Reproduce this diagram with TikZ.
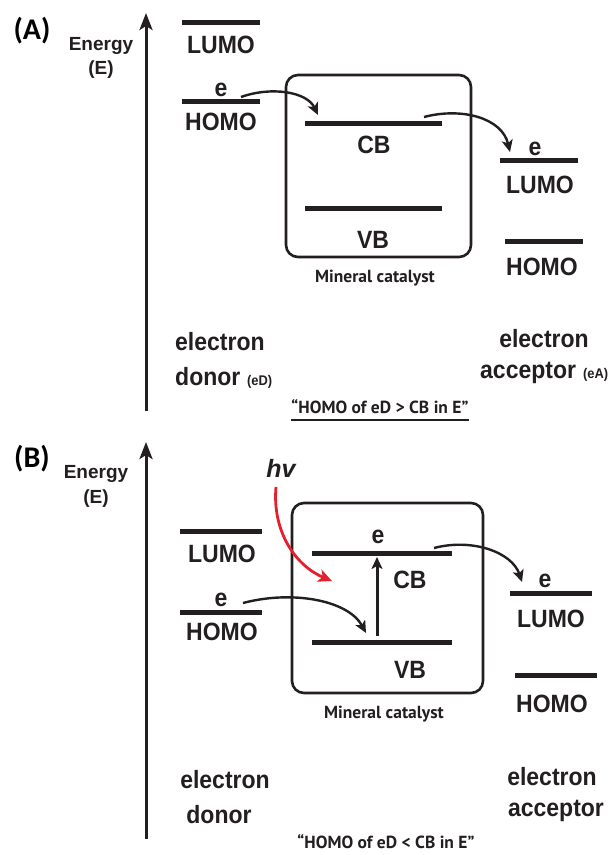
\documentclass[tikz,border=0pt]{standalone}
\usepackage{fontspec}
\setmainfont{Liberation Sans}
\newfontfamily\condf[FakeStretch=0.92]{Liberation Sans}
\newfontfamily\myriadf[Ligatures=TeX]{PT Sans}
\newfontfamily\calf{Carlito}
\usetikzlibrary{arrows.meta}
\definecolor{ink}{HTML}{231F20}
\definecolor{hvred}{HTML}{E5202E}
\begin{document}
\begin{tikzpicture}[x=1pt,y=-1pt,
  bar/.style={fill=ink,inner sep=0pt,minimum height=5pt,draw=none},
  lbl/.style={inner sep=0pt,anchor=base,text=ink,font=\condf\bfseries\fontsize{25}{28}\selectfont},
  small/.style={inner sep=0pt,anchor=base west,text=ink,font=\condf\bfseries\fontsize{14}{16}\selectfont},
  enlbl/.style={inner sep=0pt,anchor=base,text=ink,font=\bfseries\fontsize{19}{22}\selectfont},
  panel/.style={inner sep=0pt,anchor=base,text=black,font=\calf\bfseries\fontsize{30}{34}\selectfont},
  myr/.style={inner sep=0pt,anchor=base,text=ink,font=\myriadf\bfseries\fontsize{17.5}{20}\selectfont},
  axis/.style={line width=3pt,draw=ink,-{Stealth[length=17pt,width=13pt,inset=4pt]}},
  earrow/.style={line width=2.4pt,draw=ink,-{Stealth[length=12pt,width=11pt,inset=3pt]}},
  redarrow/.style={line width=2.8pt,draw=hvred,-{Stealth[length=14pt,width=13pt,inset=4pt]}},
  cat/.style={draw=ink,line width=2.6pt,rounded corners=12pt}]
\useasboundingbox[fill=white] (0,0) rectangle (612,855);

%% ================= Panel A =================
\node[panel] (A) at (32,39) {(A)};
\node[enlbl] (enA) at (101,50) {Energy};
\node[enlbl] (eA) at (101,74) {(E)};
\coordinate (axAb) at (146,411);
\coordinate (axAt) at (146,13);
\draw[axis] (axAb) -- (axAt);

% donor
\node[bar,minimum width=78pt] (dLA) at (221,22) {};
\node[lbl] (dLAt) at (221,53) {LUMO};
\node[lbl] (deA) at (221,96) {e};
\node[bar,minimum width=78pt] (dHA) at (221,101) {};
\node[lbl] (dHAt) at (221,130) {HOMO};

% catalyst
\draw[cat] (286,75) rectangle (471,257);
\node[bar,minimum width=137pt] (cbA) at (373,123) {};
\node[lbl] (cbAt) at (374,153) {CB};
\node[bar,minimum width=137pt] (vbA) at (373,208) {};
\node[lbl] (vbAt) at (373,248) {VB};
\node[myr] (mcA) at (375,282) {Mineral catalyst};

% acceptor
\node[lbl] (aeA) at (535,155) {e};
\node[bar,minimum width=78pt] (aLA) at (539,160) {};
\node[lbl] (aLAt) at (540,193) {LUMO};
\node[bar,minimum width=78pt] (aHA) at (544,241) {};
\node[lbl] (aHAt) at (542,275) {HOMO};

% arrows
\coordinate (a1s) at (241,97);
\coordinate (a1e) at (318,115);
\draw[earrow] (a1s) .. controls (272,86) and (307,92) .. (a1e);
\coordinate (a2s) at (424,117);
\coordinate (a2e) at (510,152);
\draw[earrow] (a2s) .. controls (462,107) and (502,118) .. (a2e);

% bottom labels
\node[lbl,anchor=base west] (edA) at (175,350) {electron};
\node[lbl,anchor=base west] (dnA) at (175,385) {donor};
\node[small] (eDA) at (247,385) {(eD)};
\node[lbl] (eaA) at (544,347) {electron};
\node[lbl,anchor=base west] (acA) at (480,378) {acceptor};
\node[small] (eAA) at (583,378) {(eA)};

\node[myr] (qA) at (380,413) {“HOMO of eD > CB in E”};
\draw[line width=1.8pt,draw=ink] ([yshift=-7pt]qA.base west) -- ([yshift=-7pt]qA.base east);

%% ================= Panel B =================
\node[panel] (B) at (32,467) {(B)};
\node[enlbl] (enB) at (96,478) {Energy};
\node[enlbl] (eB) at (96,503) {(E)};
\coordinate (axBb) at (146,839);
\coordinate (axBt) at (146,442);
\draw[axis] (axBb) -- (axBt);

% donor
\node[bar,minimum width=82pt] (dLB) at (221,531) {};
\node[lbl] (dLBt) at (222,562) {LUMO};
\node[lbl] (deB) at (221,606) {e};
\node[bar,minimum width=82pt] (dHB) at (221,612) {};
\node[lbl] (dHBt) at (222,640) {HOMO};

% hv
\node[inner sep=0pt,anchor=base,text=ink,font=\bfseries\itshape\fontsize{25}{28}\selectfont] (hv) at (281,477) {hv};

% catalyst
\draw[cat] (292,503) rectangle (483,693);
\node[lbl] (ecB) at (378,543) {e};
\node[bar,minimum width=140pt] (cbB) at (382,553) {};
\node[lbl] (cbBt) at (410,588) {CB};
\node[bar,minimum width=140pt] (vbB) at (382,642) {};
\node[lbl] (vbBt) at (410,678) {VB};
\node[myr] (mcB) at (384,718) {Mineral catalyst};

% acceptor
\node[lbl] (aeB) at (545,587) {e};
\node[bar,minimum width=82pt] (aLB) at (551,593) {};
\node[lbl] (aLBt) at (551,627) {LUMO};
\node[bar,minimum width=82pt] (aHB) at (556,675) {};
\node[lbl] (aHBt) at (552,712) {HOMO};

% arrows
\coordinate (rs) at (276,487);
\coordinate (re) at (332,581);
\draw[redarrow] (rs) .. controls (272,532) and (296,566) .. (re);
\coordinate (b1s) at (243,603);
\coordinate (b1e) at (366,633);
\draw[earrow] (b1s) .. controls (292,590) and (348,600) .. (b1e);
\coordinate (vs) at (377,636);
\coordinate (ve) at (377,557);
\draw[earrow,line width=3pt] (vs) -- (ve);
\coordinate (b2s) at (434,548);
\coordinate (b2e) at (522,582);
\draw[earrow] (b2s) .. controls (472,538) and (512,552) .. (b2e);

% bottom labels
\node[lbl] (edB) at (225,788) {electron};
\node[lbl] (dnB) at (219,823) {donor};
\node[lbl] (eaB) at (552,785) {electron};
\node[lbl] (acB) at (556,816) {acceptor};

\node[myr] (qB) at (386,848) {“HOMO of eD < CB in E”};
\end{tikzpicture}
\end{document}
